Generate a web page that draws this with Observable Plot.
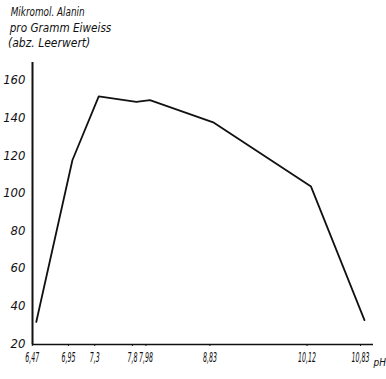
<!DOCTYPE html>
<html>
<head>
<meta charset="utf-8">
<script src="https://cdn.jsdelivr.net/npm/d3@7"></script>
<script src="https://cdn.jsdelivr.net/npm/@observablehq/plot@0.6"></script>
<style>
  html, body { margin: 0; padding: 0; background: #fff; }
  #wrap { position: relative; width: 386px; height: 379px; overflow: hidden; }
  #title { position: absolute; left: 0; top: 0; font-family: "DejaVu Sans Condensed", "DejaVu Sans", sans-serif; font-style: italic; font-size: 12px; line-height: 15.5px; color: #111; }
  #title div { white-space: nowrap; transform-origin: left center; }
  svg text { font-family: "DejaVu Sans Condensed", "DejaVu Sans", sans-serif; font-style: italic; }
</style>
</head>
<body>
<div id="wrap">
  <div id="title">
    <div style="padding-left:13px;padding-top:5px;transform:scaleX(0.82)">Mikromol. Alanin</div>
    <div style="padding-left:10px;transform:scaleX(0.97)">pro Gramm Eiweiss</div>
    <div style="padding-left:8px">(abz. Leerwert)</div>
  </div>
</div>
<script>
const pH = [6.47, 6.95, 7.3, 7.8, 7.98, 8.83, 10.12, 10.83];
const alanin = [32, 118, 152, 149, 150, 138, 104, 33];
const xTickLabels = ["6,47", "6,95", "7,3", "7,8", "7,98", "8,83", "10,12", "10,83"];
const yTicks = [20, 40, 60, 80, 100, 120, 140, 160];
const unitLabel = ["pH"];

const data = pH.map((x, i) => ({ x, y: alanin[i] }));

const chart = Plot.plot({
  width: 386,
  height: 379,
  marginLeft: 32,
  marginRight: 13,
  marginTop: 62,
  marginBottom: 35,
  style: { background: "transparent", color: "#111", fontSize: "12px" },
  x: { domain: [6.42, 10.95] },
  y: { domain: [20, 170], axis: null },
  marks: [
    Plot.axisX({ ticks: pH, tickFormat: (d, i) => xTickLabels[i], tickSize: 2, tickPadding: 6, label: null, fontSize: 14, dx: -4 }),
    Plot.ruleX([6.42], { y1: 20, y2: 170, stroke: "#111", strokeWidth: 2 }),
    Plot.ruleY([20], { stroke: "#111", strokeWidth: 1.5 }),
    Plot.line(data, { x: "x", y: "y", stroke: "#111", strokeWidth: 1.8 }),
    Plot.text(unitLabel, { text: d => d, frameAnchor: "bottom-right", dx: 0, dy: 21, textAnchor: "start", fontSize: 10, fill: "#111" }),
    Plot.text(yTicks, { y: d => d, text: d => String(d), frameAnchor: "left", textAnchor: "end", dx: -7, dy: -1, fontSize: 13, fill: "#111", ariaLabel: "ylabels" })
  ]
});
document.getElementById("wrap").appendChild(chart);
// condense the tick labels (hand-lettered look) without touching their positions
function squeeze(t, f) {
  const w = t.getComputedTextLength();
  if (w > 0) {
    t.setAttribute("textLength", (w * f).toFixed(1));
    t.setAttribute("lengthAdjust", "spacingAndGlyphs");
  }
}
chart.querySelectorAll('g[aria-label="x-axis tick label"] text').forEach(t => squeeze(t, 0.5));
chart.querySelectorAll('g[aria-label="ylabels"] text').forEach(t => squeeze(t, 0.78));
</script>
</body>
</html>
